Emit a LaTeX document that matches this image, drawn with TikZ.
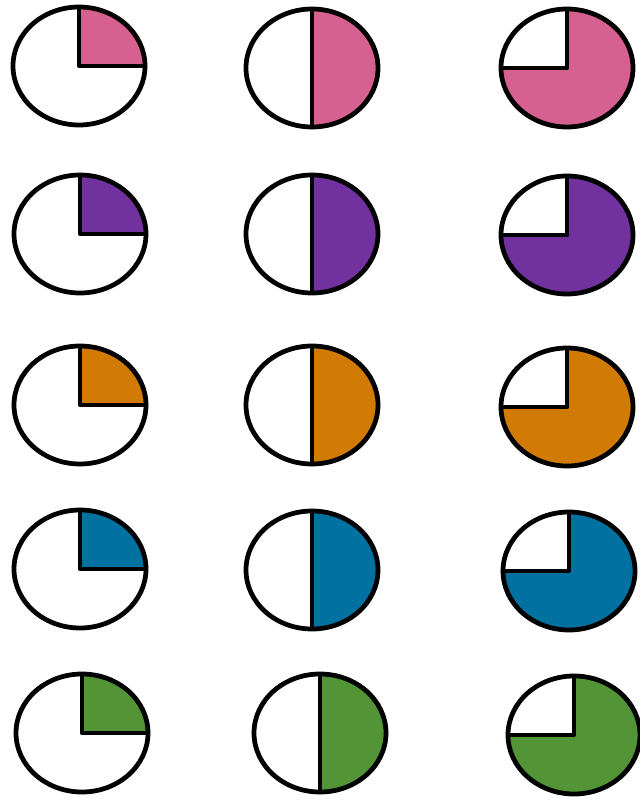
\documentclass[tikz,border=0pt]{standalone}
\usetikzlibrary{calc}
\definecolor{cpink}{HTML}{D6608F}
\definecolor{cpurple}{HTML}{7132A0}
\definecolor{corange}{HTML}{D17A04}
\definecolor{cblue}{HTML}{0071A0}
\definecolor{cgreen}{HTML}{539536}
\tikzset{
  rim/.style={draw=black, line width=2.7pt},
  spoke/.style={draw=black, line width=2.7pt, line join=round},
}
% #1 name, #2 centre, #3 colour, #4 angle where the filled part ends
\newcommand{\piechart}[4]{%
  \coordinate (#1) at (#2);
  \fill[#3] (#1) -- ++(0,-59) arc[start angle=-90, end angle=#4, x radius=66, y radius=59] -- cycle;
  \draw[spoke] (#1) ++(0,-59) -- (#1) -- ++(#4:66 and 59);
  \draw[rim] (#1) ellipse[x radius=66, y radius=59];
}

\begin{document}
\begin{tikzpicture}[x=0.02cm, y=-0.02cm]
\useasboundingbox (0,0) rectangle (639,800);
  % pink
  \piechart{pk1}{79,66}{cpink}{0}
  \piechart{pk2}{312,68}{cpink}{90}
  \piechart{pk3}{567,68}{cpink}{180}
  % purple
  \piechart{pu1}{80,234}{cpurple}{0}
  \piechart{pu2}{312,234}{cpurple}{90}
  \piechart{pu3}{567,235}{cpurple}{180}
  % orange
  \piechart{or1}{80,405}{corange}{0}
  \piechart{or2}{312,405}{corange}{90}
  \piechart{or3}{567,407}{corange}{180}
  % blue
  \piechart{bl1}{80,569}{cblue}{0}
  \piechart{bl2}{312,570}{cblue}{90}
  \piechart{bl3}{569,571}{cblue}{180}
  % green
  \piechart{gr1}{82,733}{cgreen}{0}
  \piechart{gr2}{320,733}{cgreen}{90}
  \piechart{gr3}{574,735}{cgreen}{180}
\end{tikzpicture}
\end{document}
